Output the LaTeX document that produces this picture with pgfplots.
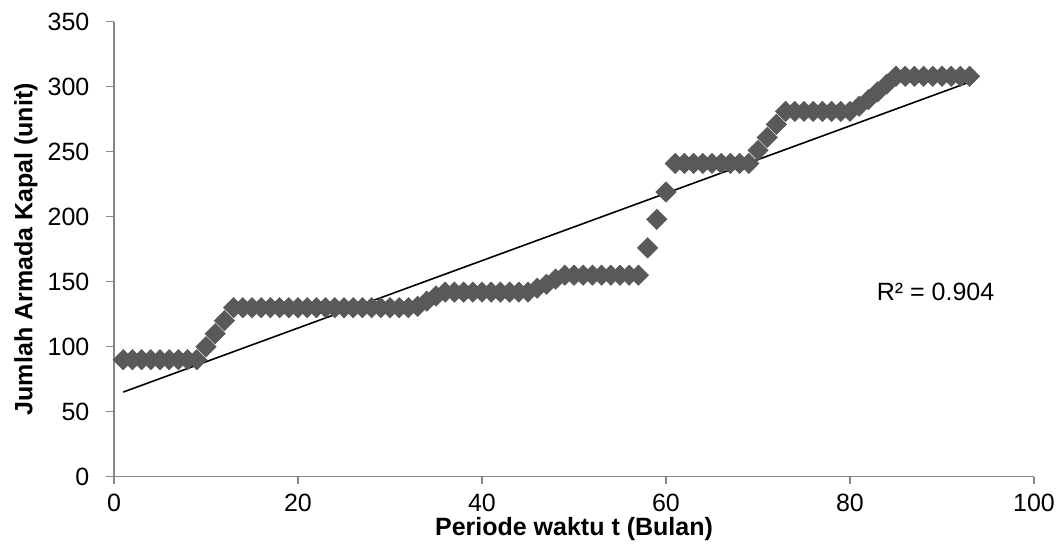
\documentclass[border=0pt]{standalone}
\usepackage{fontspec}
\setmainfont{Liberation Sans}
\usepackage{pgfplots}
\usepackage{pgfplotstable}
\pgfplotsset{compat=1.18}

\definecolor{mk}{RGB}{89,89,89}
\definecolor{ax}{RGB}{134,134,134}

\pgfplotstableread{
x y
1 90
2 90
3 90
4 90
5 90
6 90
7 90
8 90
9 90
10 100
11 110
12 120
13 130
14 130
15 130
16 130
17 130
18 130
19 130
20 130
21 130
22 130
23 130
24 130
25 130
26 130
27 130
28 130
29 130
30 130
31 130
32 130
33 131
34 135
35 139
36 142
37 142
38 142
39 142
40 142
41 142
42 142
43 142
44 142
45 142
46 145
47 148
48 152
49 155
50 155
51 155
52 155
53 155
54 155
55 155
56 155
57 155
58 176
59 198
60 219
61 241
62 241
63 241
64 241
65 241
66 241
67 241
68 241
69 241
70 251
71 261
72 271
73 281
74 281
75 281
76 281
77 281
78 281
79 281
80 281
81 285
82 290
83 296
84 302
85 308
86 308
87 308
88 308
89 308
90 308
91 308
92 308
93 308
}\armada

\begin{document}
\begin{tikzpicture}
\useasboundingbox (-57pt,-36.65pt) rectangle (471.5pt,238.35pt);
\begin{axis}[
    scale only axis,
    width=460pt, height=227.5pt,
    xmin=0, xmax=100,
    ymin=0, ymax=350,
    xtick={0,20,40,60,80,100},
    ytick={0,50,100,150,200,250,300,350},
    axis lines=left,
    axis line style={-, draw=ax, line width=0.6pt},
    tick style={draw=ax, line width=0.6pt},
    tick align=outside,
    major tick length=3.8pt,
    font=\fontsize{12.5}{15}\selectfont,
    /pgf/number format/assume math mode=true,
    yticklabel style={xshift=-5pt},
    xticklabel style={yshift=-1.5pt},
    xlabel={\textbf{Periode waktu t (Bulan)}},
    ylabel={\textbf{Jumlah Armada Kapal (unit)}},
    xlabel style={at={([yshift=-26pt]axis description cs:0.5,0)}, anchor=center},
    ylabel style={at={([xshift=-44pt]axis description cs:0,0.5)}, anchor=center},
    clip=false,
]
\addplot[only marks, mark=square*, mark size=3.54pt,
    mark options={rotate=45, fill=mk, draw=mk}] table[x=x, y=y] {\armada};
\addplot[black, line width=0.8pt, no marks]
    table[x=x, y={create col/linear regression={y=y}}] {\armada};
\node[anchor=center] at (axis cs:89.3,142) {R² = 0.904};
\end{axis}
\end{tikzpicture}
\end{document}
